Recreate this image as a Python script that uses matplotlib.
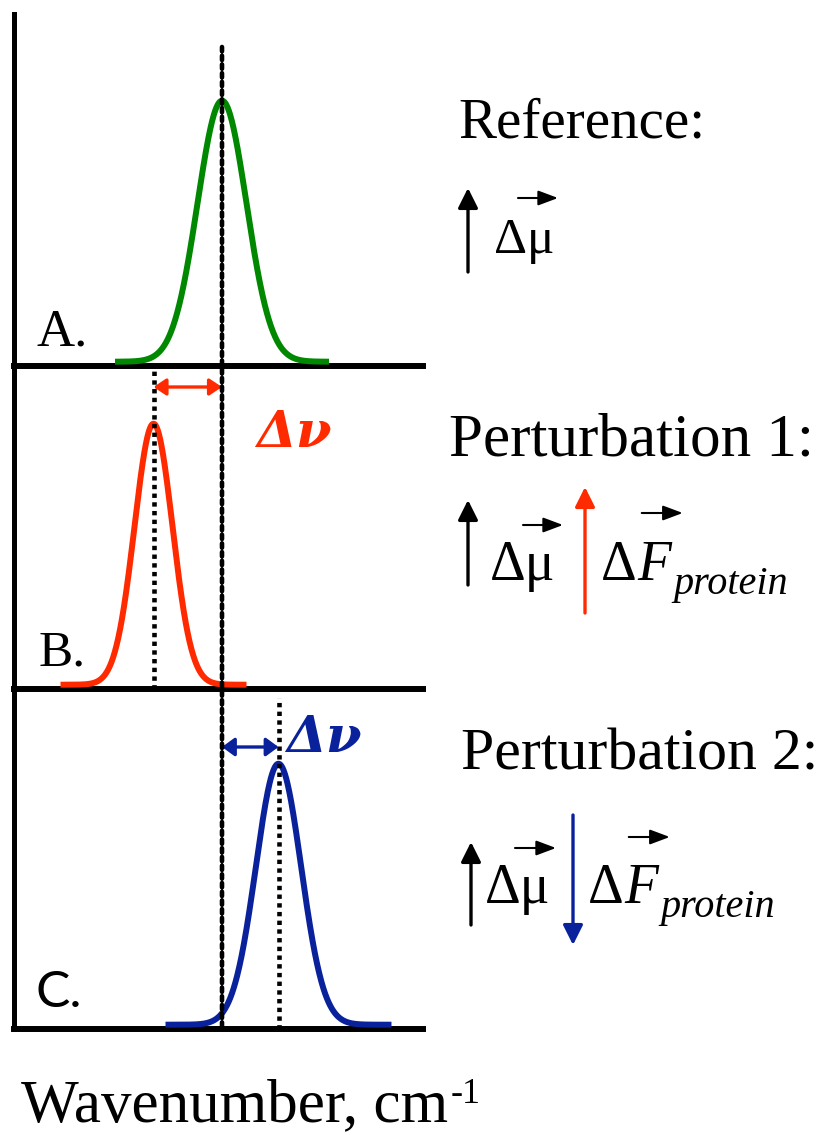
import numpy as np
import matplotlib
matplotlib.use('Agg')
import matplotlib.pyplot as plt
from matplotlib.patches import ConnectionPatch

# ---------------- data ----------------
panel_labels = ['A.', 'B.', 'C.']
peak_centers = [208.0, 139.5, 264.5]      # band position (arbitrary wavenumber units)
peak_sigmas = [24.5, 19.0, 22.6]
peak_heights = [1.0, 1.0, 1.0]
peak_halfspans = [104.0, 90.0, 110.0]
peak_colors = ['#008800', '#FF2A00', '#0A219C']
condition_titles = ['Reference:', 'Perturbation 1:', 'Perturbation 2:']
shift_label = '\u0394\u03bd'
xlabel_text = 'Wavenumber, cm'
xlabel_sup = '-1'

W, H = 833, 1135
SERIF = 'Liberation Serif'
fig = plt.figure(figsize=(W / 100, H / 100), dpi=100)

UNIT = 261.0            # pixels per unit peak height
b = -4.3 / UNIT         # baseline offset (spine below curve baseline)
XLEFT, XRIGHT = 14, 423
panel_px = [(14, 366), (366, 689), (689, 1029)]

axes = []
for (top, bot) in panel_px:
    ax = fig.add_axes([XLEFT / W, 1 - bot / H, (XRIGHT - XLEFT) / W, (bot - top) / H])
    ax.set_xlim(0, XRIGHT - XLEFT)
    ax.set_ylim(b, b + (bot - top) / UNIT)
    ax.patch.set_alpha(0)
    for s in ['top', 'right']:
        ax.spines[s].set_visible(False)
    ax.spines['bottom'].set_linewidth(4.3)
    ax.spines['left'].set_linewidth(3.6)
    ax.spines['bottom'].set_capstyle('projecting')
    ax.spines['left'].set_capstyle('projecting')
    ax.set_xticks([])
    ax.set_yticks([])
    axes.append(ax)

# Gaussian bands
for ax, c, s, h, hs, col in zip(axes, peak_centers, peak_sigmas, peak_heights,
                                peak_halfspans, peak_colors):
    x = np.linspace(c - hs, c + hs, 500)
    y = h * np.exp(-(x - c) ** 2 / (2 * s ** 2))
    ax.plot(x, y, color=col, lw=4.3, clip_on=False, zorder=3)

DLW = 3.3
dot = (0, (0.95, 0.95))
# long dotted reference line through all panels
yA_top = b + (366 - 47) / UNIT
con = ConnectionPatch(xyA=(peak_centers[0], yA_top), coordsA=axes[0].transData,
                      xyB=(peak_centers[0], b), coordsB=axes[2].transData,
                      color='black', lw=DLW, linestyle=dot, zorder=4)
fig.add_artist(con)
axes[1].axvline(peak_centers[1], ymin=0, ymax=1, color='black', lw=DLW, linestyle=dot, zorder=4)
axes[2].axvline(peak_centers[2], ymin=0, ymax=(1029 - 698) / 340, color='black', lw=DLW,
                linestyle=dot, zorder=4)

# shift arrows
yB_arr = b + (689 - 387) / UNIT
axes[1].annotate('', xy=(peak_centers[0], yB_arr), xytext=(peak_centers[1], yB_arr),
                 arrowprops=dict(arrowstyle='<|-|>,head_length=0.75,head_width=0.5',
                                 mutation_scale=10, lw=2.4, color=peak_colors[1],
                                 shrinkA=0, shrinkB=0))
yC_arr = b + (1029 - 747) / UNIT
axes[2].annotate('', xy=(peak_centers[2], yC_arr), xytext=(peak_centers[0], yC_arr),
                 arrowprops=dict(arrowstyle='<|-|>,head_length=0.75,head_width=0.55',
                                 mutation_scale=10, lw=2.4, color=peak_colors[2],
                                 shrinkA=0, shrinkB=0))

# ---------------- overlay for annotations ----------------
ov = fig.add_axes([0, 0, 1, 1], zorder=10)
ov.set_xlim(0, W)
ov.set_ylim(H, 0)
ov.axis('off')
ov.patch.set_alpha(0)
R = fig.canvas.get_renderer()

def txt(x, y, s, size, **kw):
    kw.setdefault('family', SERIF)
    return ov.text(x, y, s, fontsize=size, ha='left', va='baseline', **kw)

def right_of(t):
    bb = t.get_window_extent(R)
    return ov.transData.inverted().transform((bb.x1, bb.y0))[0]

def arrow(x1, y1, x2, y2, color='black', lw=2.4, hl=1.2, hw=0.6):
    ov.annotate('', xy=(x2, y2), xytext=(x1, y1),
                arrowprops=dict(arrowstyle=f'-|>,head_length={hl},head_width={hw}',
                                mutation_scale=10, lw=lw, color=color,
                                shrinkA=0, shrinkB=0))

# panel labels
txt(37, 345, panel_labels[0], 38)
txt(39, 665, panel_labels[1], 37)
txt(36, 1007, panel_labels[2], 37, family='Lato')

# delta-nu labels
txt(256, 447, shift_label, 37, color=peak_colors[1], style='italic', weight='bold',
    family='DejaVu Serif')
txt(286, 752, shift_label, 37, color=peak_colors[2], style='italic', weight='bold',
    family='DejaVu Serif')

# condition titles
txt(458, 137, condition_titles[0], 41)
txt(449, 455, condition_titles[1], 44)
txt(461, 770, condition_titles[2], 43)

# Reference row
arrow(468, 272, 468, 188)
txt(494, 253, '\u0394\u03bc', 37)
arrow(518, 198, 558, 198, lw=1.5, hl=1.2, hw=0.45)

def dF_row(x0, base, sub_base, vec_y):
    td = txt(x0, base, '\u0394', 40)
    xf = right_of(td) + 1
    tf = txt(xf, base, 'F', 40, style='italic')
    xs = right_of(tf) + 2
    txt(xs, sub_base, 'protein', 29, style='italic')
    arrow(xf + 4, vec_y, xf + 45, vec_y, lw=1.5, hl=1.2, hw=0.45)

# Perturbation 1 row
arrow(468, 585, 468, 500)
txt(490, 580, '\u0394\u03bc', 40)
arrow(523, 525, 563, 525, lw=1.5, hl=1.2, hw=0.45)
arrow(585, 613, 585, 487, color=peak_colors[1])
dF_row(601, 580, 594, 513)

# Perturbation 2 row
arrow(471, 925, 471, 842)
txt(485, 903, '\u0394\u03bc', 40)
arrow(515, 848, 556, 848, lw=1.5, hl=1.2, hw=0.45)
arrow(573, 815, 573, 945, color=peak_colors[2])
dF_row(588, 903, 917, 837)

# x label
t = txt(21, 1121, xlabel_text, 44)
txt(right_of(t) + 3, 1103, xlabel_sup, 26)

fig.savefig('out.png', dpi=100)
